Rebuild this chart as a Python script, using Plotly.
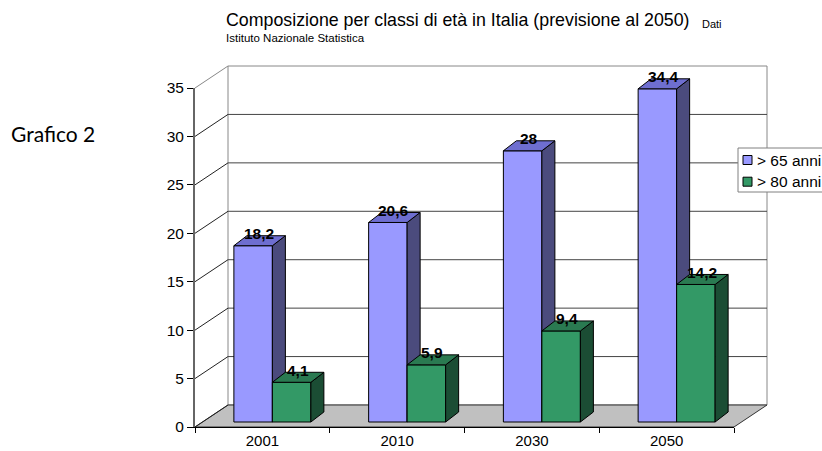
import plotly.graph_objects as go

# ---- data -------------------------------------------------------------
years = ["2001", "2010", "2030", "2050"]
over65 = [18.2, 20.6, 28, 34.4]
over80 = [4.1, 5.9, 9.4, 14.2]
series_names = ["> 65 anni", "> 80 anni"]
y_ticks = [0, 5, 10, 15, 20, 25, 30, 35]

title_text = "Composizione per classi di età in Italia (previsione al 2050)"
source_word = "Dati"
source_line = "Istituto Nazionale Statistica"
side_label = "Grafico 2"

# ---- page / box geometry (pixels) --------------------------------------
W, H = 822, 451
FRONT_L, FRONT_R = 195, 734          # front plane of the 3D box
FRONT_BOTTOM, FRONT_TOP = 427, 88
Y_MAX = y_ticks[-1]
PXX = (FRONT_R - FRONT_L) / len(years)   # px per category
PXY = (FRONT_BOTTOM - FRONT_TOP) / Y_MAX  # px per unit of value


def ux(px):
    return px / PXX


def uy(px):
    return px / PXY


def paper_x(px):
    return px / W


def paper_y(px):
    return 1 - px / H


FONT = "Arial, Liberation Sans, sans-serif"

# depth of the box and of the bars, in data units
DEPTH_X, DEPTH_Y = ux(33), uy(22)
BAR_W = 1 / 3.5                 # two bars + 150% gap per category
BAR_SHIFT = ux(10)
BAR_BASE = uy(5)
BAR_DX, BAR_DY = ux(13), uy(10)

X0, X1 = -0.5, len(years) - 0.5

palette = [
    dict(front="#9999FF", side="#4B4B7D", top="#6E6ED0"),
    dict(front="#339966", side="#1B4D34", top="#2A7A51"),
]

fig = go.Figure()


def poly_trace(polys, color):
    xs, ys = [], []
    for p in polys:
        for (a, b) in p:
            xs.append(a)
            ys.append(b)
        xs.append(None)
        ys.append(None)
    return go.Scatter(
        x=xs, y=ys, mode="lines", fill="toself", fillcolor=color,
        line=dict(color="#000000", width=1), hoverinfo="skip",
        showlegend=False, xaxis="x", yaxis="y",
    )


annotations = []
for s, values in enumerate([over65, over80]):
    fronts, sides, tops = [], [], []
    for i, v in enumerate(values):
        xl = i - BAR_W + BAR_SHIFT + s * BAR_W
        xr = xl + BAR_W
        b = BAR_BASE
        t = b + v
        fronts.append([(xl, b), (xr, b), (xr, t), (xl, t), (xl, b)])
        sides.append([(xr, b), (xr + BAR_DX, b + BAR_DY), (xr + BAR_DX, t + BAR_DY),
                      (xr, t), (xr, b)])
        tops.append([(xl, t), (xr, t), (xr + BAR_DX, t + BAR_DY),
                     (xl + BAR_DX, t + BAR_DY), (xl, t)])
        annotations.append(dict(
            x=(xl + xr) / 2 + ux(6), y=t, xref="x", yref="y", yshift=12,
            text=f"{v:g}".replace(".", ","), showarrow=False,
            font=dict(family=FONT, size=15.5, color="#000000", weight="bold"),
            xanchor="center", yanchor="middle",
        ))
    fig.add_trace(poly_trace(fronts, palette[s]["front"]))
    fig.add_trace(poly_trace(sides, palette[s]["side"]))
    fig.add_trace(poly_trace(tops, palette[s]["top"]))

# empty trace so the visible axis subplot is drawn
fig.add_trace(go.Scatter(x=[None], y=[None], xaxis="x2", yaxis="y2",
                         showlegend=False, hoverinfo="skip"))

# ---- 3D box: back wall, gridlines, floor, side wall ---------------------
shapes = []
shapes.append(dict(type="rect", xref="x", yref="y", layer="below",
                   x0=X0 + DEPTH_X, x1=X1 + DEPTH_X, y0=DEPTH_Y, y1=Y_MAX + DEPTH_Y,
                   fillcolor="#FFFFFF", line=dict(color="#888888", width=1)))
for v in y_ticks[1:-1]:
    shapes.append(dict(type="line", xref="x", yref="y", layer="below",
                       x0=X0 + DEPTH_X, x1=X1 + DEPTH_X, y0=v + DEPTH_Y, y1=v + DEPTH_Y,
                       line=dict(color="#444444", width=1)))
shapes.append(dict(type="path", xref="x", yref="y", layer="below",
                   path=(f"M{X0},0 L{X1},0 L{X1 + DEPTH_X},{DEPTH_Y} "
                         f"L{X0 + DEPTH_X},{DEPTH_Y} Z"),
                   fillcolor="#C0C0C0", line=dict(color="#333333", width=1)))
for v in y_ticks:
    shapes.append(dict(type="line", xref="x", yref="y", layer="below",
                       x0=X0, x1=X0 + DEPTH_X, y0=v, y1=v + DEPTH_Y,
                       line=dict(color="#222222" if v < Y_MAX else "#888888", width=1)))

# ---- legend box --------------------------------------------------------
shapes.append(dict(type="rect", xref="paper", yref="paper",
                   x0=paper_x(738), x1=paper_x(W + 20), y0=paper_y(192), y1=paper_y(148),
                   fillcolor="#FFFFFF", line=dict(color="#808080", width=1)))
for k, name in enumerate(series_names):
    cy = 160 + k * 21.7
    shapes.append(dict(type="rect", xref="paper", yref="paper",
                       x0=paper_x(743), x1=paper_x(752), y0=paper_y(cy + 4.5), y1=paper_y(cy - 4.5),
                       fillcolor=palette[k]["front"], line=dict(color="#000000", width=1)))
    annotations.append(dict(x=paper_x(755), y=paper_y(cy), xref="paper", yref="paper",
                            text=name, showarrow=False, xanchor="left", yanchor="middle",
                            font=dict(family=FONT, size=15.5, color="#000000")))

# ---- titles ------------------------------------------------------------
annotations += [
    dict(x=paper_x(224), y=paper_y(20.5), xref="paper", yref="paper", text=title_text,
         showarrow=False, xanchor="left", yanchor="middle",
         font=dict(family=FONT, size=17.8, color="#000000")),
    dict(x=paper_x(700), y=paper_y(23.7), xref="paper", yref="paper", text=source_word,
         showarrow=False, xanchor="left", yanchor="middle",
         font=dict(family=FONT, size=11, color="#000000")),
    dict(x=paper_x(224), y=paper_y(38.5), xref="paper", yref="paper", text=source_line,
         showarrow=False, xanchor="left", yanchor="middle",
         font=dict(family=FONT, size=11.5, color="#000000")),
    dict(x=paper_x(9), y=paper_y(133), xref="paper", yref="paper", text=side_label,
         showarrow=False, xanchor="left", yanchor="middle",
         font=dict(family="Lato, Open Sans, sans-serif", size=21, color="#000000")),
]

fig.update_layout(
    width=W, height=H,
    margin=dict(l=0, r=0, t=0, b=0, autoexpand=False),
    paper_bgcolor="#FFFFFF", plot_bgcolor="rgba(0,0,0,0)",
    showlegend=False,
    shapes=shapes, annotations=annotations,
    xaxis=dict(domain=[0, 1], range=[X0 - ux(FRONT_L), X0 + ux(W - FRONT_L)],
               visible=False, fixedrange=True),
    yaxis=dict(domain=[0, 1], range=[-uy(H - FRONT_BOTTOM), uy(FRONT_BOTTOM)],
               visible=False, fixedrange=True),
    xaxis2=dict(domain=[paper_x(FRONT_L), paper_x(FRONT_R)], range=[X0, X1],
                anchor="y2", showgrid=False, zeroline=False,
                showline=True, linecolor="#000000", linewidth=1,
                tickmode="array", tickvals=list(range(len(years))), ticktext=years,
                ticks="",
                tickfont=dict(family=FONT, size=15, color="#000000"),
                minor=dict(tickmode="array",
                           tickvals=[i - 0.5 for i in range(len(years) + 1)],
                           ticks="outside", ticklen=5, tickcolor="#000000", tickwidth=1),
                fixedrange=True),
    yaxis2=dict(domain=[paper_y(FRONT_BOTTOM), paper_y(FRONT_TOP)], range=[0, Y_MAX],
                anchor="x2", showgrid=False, zeroline=False,
                showline=True, linecolor="#666666", linewidth=2,
                tickmode="array", tickvals=y_ticks,
                ticks="outside", ticklen=6, tickcolor="#000000", tickwidth=1,
                tickfont=dict(family=FONT, size=15.5, color="#000000"),
                fixedrange=True),
)

fig.write_html("out.html")
